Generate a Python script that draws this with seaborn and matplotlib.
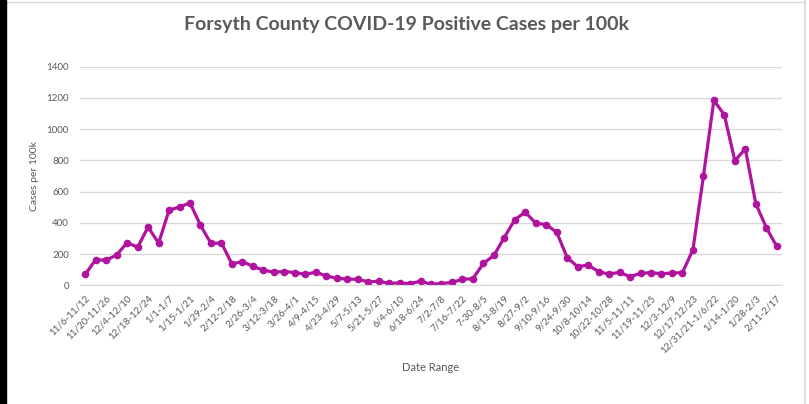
import numpy as np
import pandas as pd
import seaborn as sns
import matplotlib.pyplot as plt
from matplotlib.patches import Rectangle
from matplotlib.lines import Line2D

# weekly date ranges (only every other one gets a tick label in the chart)
tick_labels = ["11/6-11/12", "11/20-11/26", "12/4-12/10", "12/18-12/24", "1/1-1/7",
               "1/15-1/21", "1/29-2/4", "2/12-2/18", "2/26-3/4", "3/12-3/18",
               "3/26-4/1", "4/9-4/15", "4/23-4/29", "5/7-5/13", "5/21-5/27",
               "6/4-6/10", "6/18-6/24", "7/2-7/8", "7/16-7/22", "7-30-8/5",
               "8/13-8/19", "8/27-9/2", "9/10-9/16", "9/24-9/30", "10/8-10/14",
               "10/22-10/28", "11/5-11/11", "11/19-11/25", "12/3-12/9", "12/17-12/23",
               "12/31/21-1/6/22", "1/14-1/20", "1/28-2/3", "2/11-2/17"]

cases = [70, 165, 160, 195, 273, 244, 373, 270, 481, 502,
         528, 384, 268, 271, 137, 152, 122, 96, 85, 88,
         82, 70, 84, 60, 45, 40, 38, 23, 26, 13,
         15, 11, 26, 7, 11, 19, 38, 43, 140, 191,
         306, 421, 468, 398, 389, 339, 177, 119, 130, 87,
         72, 83, 55, 77, 81, 74, 79, 81, 228, 698,
         1185, 1091, 798, 874, 523, 370, 249]

week = np.arange(len(cases))
df = pd.DataFrame({"week": week, "cases": cases})

sns.set_style("white")
plt.rcParams['font.family'] = ['Lato', 'DejaVu Sans']

grey = "#595959"
line_col = "#b0149f"

fig = plt.figure(figsize=(8.09, 4.04), dpi=100)
ax = fig.add_axes([0.0989, 0.2938, 0.8677, 0.5411])

sns.lineplot(data=df, x="week", y="cases", ax=ax, color=line_col,
             linewidth=2.3, marker="o", markersize=5.5, markeredgewidth=0)

ax.set_xlim(-0.5, len(cases) - 0.5)
ax.set_ylim(0, 1400)
ax.set_yticks(range(0, 1401, 200))
ax.yaxis.grid(True, color="#d9d9d9", linewidth=1)
ax.tick_params(axis="y", length=0, labelsize=7, labelcolor=grey, pad=8)

ax.set_xticks(week[::2])
ax.set_xticklabels(tick_labels, rotation=45, ha="right", rotation_mode="anchor")
ax.set_xticks(np.arange(-0.5, len(cases), 1), minor=True)
ax.tick_params(axis="x", which="major", length=0, labelsize=7, labelcolor=grey, pad=6)
ax.tick_params(axis="x", which="minor", length=4, color="#d9d9d9", width=0.8)

for s in ["top", "right", "left"]:
    ax.spines[s].set_visible(False)
ax.spines["bottom"].set_color("#d9d9d9")

ax.set_xlabel("Date Range", fontsize=8, color=grey, labelpad=0)
ax.xaxis.set_label_coords(0.5, -0.352)
ax.set_ylabel("Cases per 100k", fontsize=7.5, color=grey)
ax.yaxis.set_label_coords(-0.058, 0.5)

fig.text(0.502, 0.94, "Forsyth County COVID-19 Positive Cases per 100k",
         ha="center", va="center", fontsize=14, fontweight="bold", color=grey)

# screenshot frame: black strip at left, light border top and right
fig.add_artist(Rectangle((0, 0), 6 / 809, 1, transform=fig.transFigure,
                         color="black", zorder=10))
fig.add_artist(Line2D([6 / 809, 805 / 809], [1 - 1.5 / 404] * 2,
                      transform=fig.transFigure, color="#d9d9d9", lw=1))
fig.add_artist(Line2D([805 / 809] * 2, [0, 1], transform=fig.transFigure,
                      color="#d9d9d9", lw=1.2))

fig.savefig("out.png", dpi=100)
